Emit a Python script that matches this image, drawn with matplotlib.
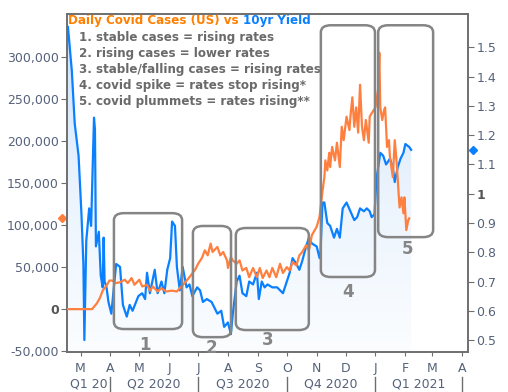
import numpy as np
import pandas as pd
import matplotlib
matplotlib.use("Agg")
import matplotlib.pyplot as plt
import matplotlib.dates as mdates
import matplotlib.transforms as mtransforms
from matplotlib.patches import FancyBboxPatch
from matplotlib.colors import LinearSegmentedColormap
from matplotlib.ticker import FuncFormatter

# 10yr treasury yield (right axis)
yield_dates = [
    "2020-02-17", "2020-02-21", "2020-02-24", "2020-02-28", "2020-03-02", "2020-03-04",
    "2020-03-05", "2020-03-07", "2020-03-10", "2020-03-12", "2020-03-15", "2020-03-16",
    "2020-03-17", "2020-03-20", "2020-03-22", "2020-03-24", "2020-03-25", "2020-03-26",
    "2020-03-28", "2020-03-30", "2020-04-02", "2020-04-04", "2020-04-07", "2020-04-11",
    "2020-04-14", "2020-04-18", "2020-04-21", "2020-04-24", "2020-04-30", "2020-05-04",
    "2020-05-07", "2020-05-09", "2020-05-12", "2020-05-17", "2020-05-20", "2020-05-24",
    "2020-05-27", "2020-05-30", "2020-06-02", "2020-06-04", "2020-06-07", "2020-06-09",
    "2020-06-12", "2020-06-15", "2020-06-19", "2020-06-22", "2020-06-25", "2020-06-30",
    "2020-07-03", "2020-07-06", "2020-07-10", "2020-07-15", "2020-07-18", "2020-07-21",
    "2020-07-25", "2020-07-28", "2020-08-01", "2020-08-04", "2020-08-06", "2020-08-10",
    "2020-08-13", "2020-08-16", "2020-08-20", "2020-08-23", "2020-08-27", "2020-08-31",
    "2020-09-02", "2020-09-05", "2020-09-08", "2020-09-11", "2020-09-16", "2020-09-21",
    "2020-09-27", "2020-10-01", "2020-10-04", "2020-10-07", "2020-10-11", "2020-10-14",
    "2020-10-17", "2020-10-21", "2020-10-24", "2020-10-27", "2020-11-01", "2020-11-04",
    "2020-11-05", "2020-11-07", "2020-11-09", "2020-11-12", "2020-11-15", "2020-11-19",
    "2020-11-22", "2020-11-25", "2020-11-28", "2020-12-02", "2020-12-06", "2020-12-10",
    "2020-12-13", "2020-12-16", "2020-12-20", "2020-12-23", "2020-12-26", "2020-12-28",
    "2020-12-31", "2021-01-02", "2021-01-06", "2021-01-09", "2021-01-12", "2021-01-16",
    "2021-01-19", "2021-01-21", "2021-01-24", "2021-01-27", "2021-01-30", "2021-02-01",
    "2021-02-05", "2021-02-07",
]
yield_vals = [
    1.57, 1.42, 1.24, 1.13, 0.93, 0.76,
    0.50, 0.84, 0.95, 0.89, 1.26, 1.22,
    0.82, 0.87, 0.72, 0.68, 0.85, 0.70,
    0.68, 0.63, 0.59, 0.66, 0.76, 0.75,
    0.62, 0.58, 0.62, 0.60, 0.65, 0.66,
    0.64, 0.73, 0.66, 0.74, 0.66, 0.70,
    0.66, 0.74, 0.78, 0.905, 0.89, 0.75,
    0.67, 0.75, 0.68, 0.69, 0.65, 0.68,
    0.67, 0.63, 0.64, 0.63, 0.61, 0.59,
    0.60, 0.545, 0.56, 0.52, 0.59, 0.70,
    0.72, 0.66, 0.65, 0.70, 0.69, 0.73,
    0.64, 0.70, 0.68, 0.69, 0.68, 0.68,
    0.66, 0.70, 0.73, 0.78, 0.76, 0.74,
    0.77, 0.82, 0.85, 0.83, 0.82, 0.78,
    0.80, 0.97, 0.97, 0.90, 0.89, 0.85,
    0.88, 0.85, 0.95, 0.97, 0.94, 0.91,
    0.92, 0.95, 0.94, 0.95, 0.94, 0.92,
    0.93, 1.05, 1.14, 1.13, 1.10, 1.12,
    1.09, 1.04, 1.09, 1.12, 1.14, 1.17,
    1.16, 1.15,
]

# daily covid cases, US (left axis)
case_dates = [
    "2020-02-16", "2020-03-13", "2020-03-18", "2020-03-21", "2020-03-24", "2020-03-28",
    "2020-03-31", "2020-04-03", "2020-04-07", "2020-04-11", "2020-04-16", "2020-04-19",
    "2020-04-23", "2020-04-26", "2020-05-01", "2020-05-04", "2020-05-09", "2020-05-12",
    "2020-05-15", "2020-05-20", "2020-05-24", "2020-05-29", "2020-06-04", "2020-06-09",
    "2020-06-12", "2020-06-17", "2020-06-22", "2020-06-28", "2020-07-01", "2020-07-05",
    "2020-07-08", "2020-07-11", "2020-07-14", "2020-07-16", "2020-07-21", "2020-07-24",
    "2020-07-27", "2020-07-31", "2020-08-01", "2020-08-04", "2020-08-06", "2020-08-10",
    "2020-08-13", "2020-08-16", "2020-08-20", "2020-08-23", "2020-08-27", "2020-08-31",
    "2020-09-03", "2020-09-06", "2020-09-10", "2020-09-13", "2020-09-16", "2020-09-20",
    "2020-09-24", "2020-09-27", "2020-10-01", "2020-10-04", "2020-10-07", "2020-10-11",
    "2020-10-14", "2020-10-17", "2020-10-21", "2020-10-24", "2020-10-27", "2020-11-01",
    "2020-11-04", "2020-11-07", "2020-11-09", "2020-11-10", "2020-11-12", "2020-11-14",
    "2020-11-15", "2020-11-17", "2020-11-20", "2020-11-22", "2020-11-25", "2020-11-27",
    "2020-11-29", "2020-12-02", "2020-12-05", "2020-12-06", "2020-12-08", "2020-12-10",
    "2020-12-12", "2020-12-14", "2020-12-16", "2020-12-18", "2020-12-20", "2020-12-22",
    "2020-12-25", "2020-12-26", "2020-12-28", "2021-01-01", "2021-01-04", "2021-01-05",
    "2021-01-06", "2021-01-08", "2021-01-10", "2021-01-11", "2021-01-13", "2021-01-15",
    "2021-01-16", "2021-01-19", "2021-01-21", "2021-01-23", "2021-01-25", "2021-01-26",
    "2021-01-28", "2021-01-30", "2021-01-31", "2021-02-02", "2021-02-04", "2021-02-05",
]
case_vals = [
    0, 0, 7000, 13000, 22000, 28000,
    34000, 34000, 31000, 32000, 35000, 31000,
    37000, 29000, 35000, 27000, 29000, 22000,
    27000, 21000, 25000, 21000, 22000, 21000,
    25000, 31000, 38000, 47000, 54000, 61000,
    70000, 64000, 78000, 68000, 74000, 64000,
    68000, 58000, 49000, 62000, 58000, 54000,
    58000, 46000, 49000, 38000, 49000, 38000,
    49000, 37000, 46000, 38000, 49000, 38000,
    54000, 43000, 50000, 46000, 56000, 52000,
    64000, 68000, 76000, 70000, 88000, 98000,
    110000, 140000, 157000, 177000, 165000, 186000,
    169000, 193000, 177000, 198000, 169000, 217000,
    201000, 229000, 213000, 229000, 252000, 217000,
    240000, 210000, 267000, 217000, 201000, 225000,
    198000, 229000, 233000, 240000, 264000, 305000,
    240000, 225000, 237000, 240000, 193000, 201000,
    181000, 157000, 201000, 174000, 138000, 121000,
    133000, 114000, 133000, 94000, 106000, 108000,
]

month_labels = ["M", "A", "M", "J", "J", "A", "S", "O", "N", "D", "J", "F", "M", "A"]
quarter_labels = ["Q1 20", "Q2 2020", "Q3 2020", "Q4 2020", "Q1 2021"]
quarter_edges = ["2020-04-01", "2020-07-01", "2020-10-01", "2021-01-01", "2021-04-01"]
notes = [
    "1. stable cases = rising rates",
    "2. rising cases = lower rates",
    "3. stable/falling cases = rising rates",
    "4. covid spike = rates stop rising*",
    "5. covid plummets = rates rising**",
]
box_labels = ["1", "2", "3", "4", "5"]

ORANGE = "#ff7f3f"
BLUE = "#0a80ff"
BOXGREY = "#858585"
NOTEGREY = "#6a6a6a"
TICKCOL = "#56627a"
SPINE = "#6e6e6e"

yd = pd.to_datetime(yield_dates)
cd = pd.to_datetime(case_dates)
x0, x1 = pd.Timestamp("2020-02-16"), pd.Timestamp("2021-04-07")

fig = plt.figure(figsize=(5.08, 3.92), dpi=100)
ax = fig.add_axes([0.1319, 0.102, 0.7894, 0.862])   # yield, drawn underneath
ax2 = ax.twinx()                                    # cases, drawn on top

ax.set_xlim(x0, x1)
ax.set_ylim(0.459, 1.614)
ax2.set_ylim(-51000, 351000)

# gradient fill under the yield line
lo, hi = ax.get_ylim()
poly = ax.fill_between(yd, yield_vals, lo, facecolor="none", edgecolor="none")
cmap = LinearSegmentedColormap.from_list("fade", ["#fbfdff", "#eaf3fd", "#c9e1fa"])
grad = np.linspace(0, 1, 256).reshape(-1, 1)
im = ax.imshow(grad, cmap=cmap, origin="lower", aspect="auto", zorder=1,
               extent=[mdates.date2num(x0), mdates.date2num(x1), lo, hi])
im.set_clip_path(poly.get_paths()[0], transform=ax.transData)
ax.set_xlim(x0, x1)
ax.set_ylim(lo, hi)

ax.plot(yd, yield_vals, color=BLUE, lw=1.6, zorder=3)
ax2.plot(cd, case_vals, color=ORANGE, lw=1.6, zorder=3)

# last-value markers on the axes
tb = mtransforms.blended_transform_factory(ax.transAxes, ax.transData)
ax.plot([1.012], [yield_vals[-1]], marker="D", ms=4.5, color=BLUE, transform=tb, clip_on=False)
tc = mtransforms.blended_transform_factory(ax2.transAxes, ax2.transData)
ax2.plot([-0.012], [case_vals[-1]], marker="D", ms=4.5, color=ORANGE, transform=tc, clip_on=False)

# y axes: yield on the right, cases on the left
ax.yaxis.set_ticks_position("right")
ax2.yaxis.set_ticks_position("left")
ax.set_yticks(np.round(np.arange(0.5, 1.51, 0.1), 1))
ax.yaxis.set_major_formatter(FuncFormatter(lambda v, p: "1" if abs(v - 1) < 1e-9 else f"{v:.1f}"))
ax2.set_yticks(np.arange(-50000, 300001, 50000))
ax2.yaxis.set_major_formatter(FuncFormatter(lambda v, p: f"{v:,.0f}"))
ax.tick_params(axis="y", colors=SPINE, labelcolor=TICKCOL, labelsize=9, length=4, pad=2)
ax2.tick_params(axis="y", colors=SPINE, labelcolor=TICKCOL, labelsize=9, length=4, pad=2)
for t in ax.get_yticklabels():
    if t.get_text() == "1":
        t.set_fontweight("bold")
        t.set_color("#555555")
for t in ax2.get_yticklabels():
    if t.get_text() == "0":
        t.set_fontweight("bold")
        t.set_color("#555555")

for a in (ax, ax2):
    for s in a.spines.values():
        s.set_color(SPINE)
        s.set_linewidth(1.2)

# x axis: month letters + quarter row
months = pd.date_range("2020-03-01", "2021-04-01", freq="MS")
ax.set_xticks(months)
ax.set_xticklabels(month_labels)
ax.tick_params(axis="x", colors=SPINE, labelcolor=TICKCOL, labelsize=9, length=3, pad=4)

tx = mtransforms.blended_transform_factory(ax.transData, ax.transAxes)
qe = pd.to_datetime(quarter_edges)
starts = [x0] + list(qe[:-1])
for s, e, lab in zip(starts, qe, quarter_labels):
    mid = s + (e - s) / 2
    ax.text(mid, -0.095, lab, transform=tx, ha="center", va="center",
            fontsize=9, color=TICKCOL)
for e in qe:
    ax.plot([e, e], [-0.074, -0.118], transform=tx, color=SPINE, lw=1, clip_on=False)

# title (two colours) and notes
t1 = ax.text(0.003, 0.982, "Daily Covid Cases (US) vs ", transform=ax.transAxes,
             color="#ff8000", fontsize=8.6, fontweight="bold", va="center", ha="left", zorder=6)
fig.canvas.draw()
bb = t1.get_window_extent()
t2x = ax.transAxes.inverted().transform((bb.x1, bb.y0))[0]
ax.text(t2x, 0.982, "10yr Yield", transform=ax.transAxes, color=BLUE, fontsize=8.6,
        fontweight="bold", va="center", ha="left", zorder=6)
for i, note in enumerate(notes):
    ax.text(0.03, 0.93 - i * 0.0475, note, transform=ax.transAxes, color=NOTEGREY,
            fontsize=8.6, fontweight="bold", va="center", ha="left", zorder=6)

# rounded boxes around the periods
boxes = [(0.117, 0.068, 0.170, 0.343), (0.314, 0.044, 0.095, 0.329),
         (0.421, 0.065, 0.182, 0.302), (0.633, 0.222, 0.135, 0.745),
         (0.776, 0.340, 0.137, 0.627)]
label_pos = [(0.195, 0.021), (0.359, 0.012), (0.501, 0.036), (0.701, 0.178), (0.848, 0.305)]
for (bx, by, bw, bh), (lx, ly), lab in zip(boxes, label_pos, box_labels):
    ax2.add_patch(FancyBboxPatch((bx, by), bw, bh, transform=ax2.transAxes,
                                 boxstyle="round,pad=0,rounding_size=0.025",
                                 fill=False, edgecolor=BOXGREY, lw=1.8, zorder=5,
                                 mutation_aspect=338 / 401))
    ax2.text(lx, ly, lab, transform=ax2.transAxes, ha="center", va="center",
             fontsize=12, fontweight="bold", color=BOXGREY, zorder=5)

fig.savefig("out.png", dpi=100)
